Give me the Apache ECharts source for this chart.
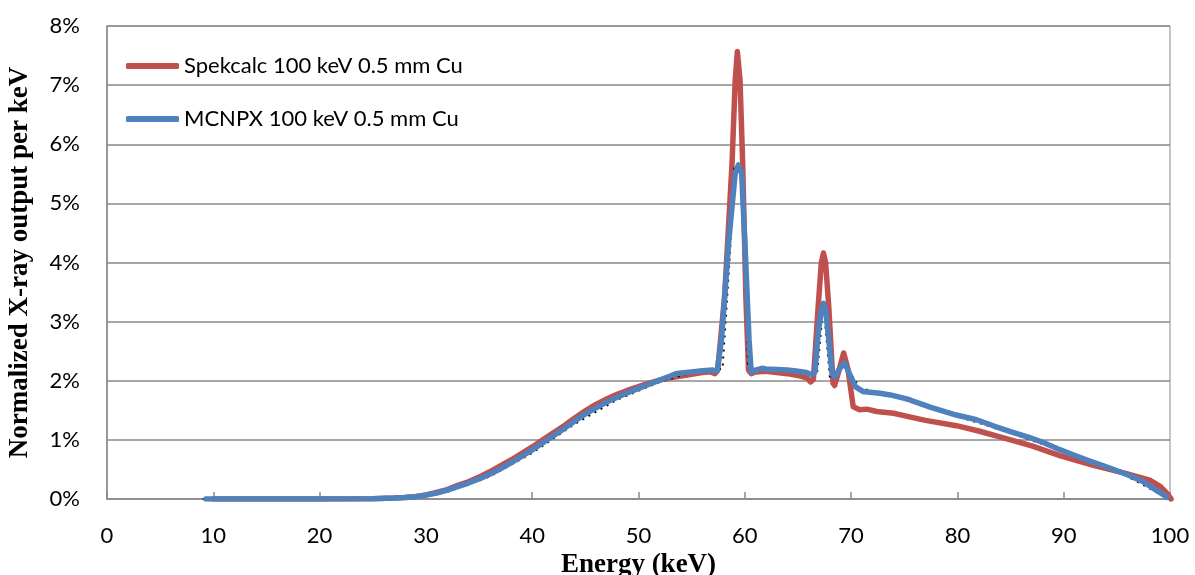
<!DOCTYPE html>
<html>
<head>
<meta charset="utf-8">
<script src="https://cdn.jsdelivr.net/npm/echarts@6/dist/echarts.min.js"></script>
<style>
  html, body { margin: 0; padding: 0; background: #fff; }
  #main { width: 1195px; height: 575px; }
</style>
</head>
<body>
<div id="main"></div>
<script>
// Spekcalc spectrum (keV, % per keV)
const redEnergy = [10, 15, 20, 25, 27, 28, 29, 30, 31, 32, 33, 34, 35, 36, 37, 38, 39, 40, 41, 42, 43, 44, 45, 46, 47, 48, 49, 50, 51, 52, 53, 54, 55, 56, 56.8, 57.2,
  57.45, 58.1, 58.8, 59.1, 59.3, 59.55, 59.8, 60.1, 60.35, 60.6, 61, 62, 63, 64, 65, 65.8, 66.2,
  66.45, 66.9, 67.2, 67.4, 67.6, 67.9, 68.3, 68.45, 68.9, 69.3, 69.7, 70.2, 70.8, 71.5, 72.4, 74, 75.5, 77, 79.9, 82, 85, 87, 89.7, 92.8, 95.9, 98.1, 99.1, 99.6, 100.1];
const redValues = [0, 0, 0, 0.005, 0.015, 0.025, 0.04, 0.07, 0.11, 0.16, 0.23, 0.29, 0.37, 0.46, 0.56, 0.66, 0.77, 0.88, 1.00, 1.12, 1.24, 1.37, 1.49, 1.60, 1.69, 1.77, 1.84, 1.90, 1.96, 2.01, 2.05, 2.08, 2.11, 2.14, 2.15, 2.12,
  2.18, 3.42, 5.68, 7.09, 7.57, 7.09, 5.68, 3.42, 2.18, 2.12, 2.15, 2.16, 2.14, 2.12, 2.09, 2.05, 1.98,
  2.02, 3.25, 4.0, 4.16, 4.0, 3.25, 1.96, 1.92, 2.2, 2.47, 2.2, 1.56, 1.51, 1.52, 1.48, 1.45, 1.39, 1.33, 1.24, 1.15, 1.00, 0.90, 0.73, 0.57, 0.43, 0.32, 0.21, 0.12, 0.0];

// MCNPX spectrum
const blueEnergy = [9.3, 15, 20, 25, 27, 28, 29, 30, 31, 32, 33, 34, 35, 36, 37, 38, 39, 40, 41, 42, 43, 44, 45, 46, 47, 48, 49, 50, 51, 52, 53, 53.5, 54, 55, 56, 57, 57.4,
  57.8, 58.5, 59.1, 59.4, 59.7, 60.0, 60.4, 60.6, 61, 61.6, 62, 63, 64, 65, 65.8, 66.3,
  66.6, 66.9, 67.2, 67.4, 67.6, 67.9, 68.2, 68.5, 68.9, 69.4, 69.9, 70.4, 71.1, 72.7, 73.7, 75.5, 75.9, 77.5, 79.9, 81.8, 83.5, 85, 86.8, 88.3, 89.7, 91, 92.2, 94.4, 96, 97.5, 98.7, 99.4, 99.7];
const blueValues = [0, 0, 0, 0.005, 0.015, 0.025, 0.04, 0.065, 0.10, 0.15, 0.21, 0.27, 0.34, 0.42, 0.51, 0.61, 0.72, 0.83, 0.95, 1.07, 1.19, 1.32, 1.44, 1.54, 1.64, 1.72, 1.80, 1.87, 1.94, 2.01, 2.08, 2.12, 2.13, 2.15, 2.17, 2.18, 2.16,
  2.69, 4.38, 5.51, 5.65, 5.51, 4.38, 2.69, 2.15, 2.18, 2.21, 2.2, 2.19, 2.18, 2.16, 2.14, 2.10,
  2.15, 2.8, 3.2, 3.31, 3.2, 2.7, 2.12, 2.07, 2.2, 2.30, 2.1, 1.90, 1.82, 1.79, 1.76, 1.68, 1.65, 1.55, 1.42, 1.34, 1.23, 1.14, 1.04, 0.94, 0.83, 0.74, 0.66, 0.52, 0.41, 0.29, 0.15, 0.07, 0.03];

// black dotted trend, mostly hidden behind the MCNPX line
const dotEnergy = [9.0, 20, 28, 32, 36, 40, 44, 48, 52, 55, 57.9, 58.6, 59.0, 59.6, 60.0, 60.3, 62, 66.8, 67.4, 68.0, 69.4, 70.8, 75, 80, 85, 90, 95, 99.4];
const dotValues = [0, 0, 0.02, 0.12, 0.38, 0.78, 1.27, 1.68, 1.98, 2.14, 2.2, 4.14, 5.6, 5.6, 4.4, 2.2, 2.2, 2.13, 3.3, 2.06, 2.28, 1.88, 1.68, 1.40, 1.12, 0.80, 0.48, 0.05];

const pairs = (xs, ys) => xs.map((x, i) => [x, ys[i]]);

const gridColor = '#8a8a8a';
const labelFont = 'Lato';
const titleFont = 'Liberation Serif';

let myChart = echarts.init(document.getElementById('main'));
let option = {
  animation: false,
  grid: {
    left: 107, right: 25, top: 26, bottom: 76,
    outerBoundsMode: 'none',
    containLabel: false,
    show: true, borderColor: gridColor, borderWidth: 1
  },
  legend: {
    orient: 'vertical',
    left: 121, top: 50,
    itemWidth: 53, itemHeight: 6,
    itemGap: 31,
    icon: 'roundRect',
    data: ['Spekcalc 100 keV 0.5 mm Cu', 'MCNPX 100 keV 0.5 mm Cu'],
    textStyle: { fontFamily: labelFont, fontSize: 22, color: '#000' }
  },
  xAxis: {
    type: 'value',
    min: 0, max: 100, interval: 10,
    name: 'Energy (keV)',
    nameLocation: 'middle',
    nameGap: 49,
    nameTextStyle: { fontFamily: titleFont, fontWeight: 'bold', fontSize: 27, color: '#000' },
    axisLine: { lineStyle: { color: gridColor, width: 1.5 } },
    axisTick: { show: true, inside: true, length: 7, lineStyle: { color: gridColor, width: 1.5 } },
    axisLabel: { fontFamily: labelFont, fontSize: 22, color: '#000', margin: 26 },
    splitLine: { show: false }
  },
  yAxis: {
    type: 'value',
    min: 0, max: 8, interval: 1,
    name: 'Normalized X-ray output per keV',
    nameLocation: 'middle',
    nameGap: 73,
    nameRotate: 90,
    nameTextStyle: { fontFamily: titleFont, fontWeight: 'bold', fontSize: 27, color: '#000' },
    axisLine: { show: true, lineStyle: { color: gridColor, width: 1.5 } },
    axisTick: { show: false },
    axisLabel: { fontFamily: labelFont, fontSize: 22, color: '#000', margin: 27, formatter: '{value}%' },
    splitLine: { lineStyle: { color: gridColor, width: 1.5 } }
  },
  series: [
    {
      name: 'Spekcalc 100 keV 0.5 mm Cu',
      type: 'line',
      symbol: 'none',
      data: pairs(redEnergy, redValues),
      lineStyle: { color: '#C0504D', width: 5.5, join: 'round', cap: 'round' },
      itemStyle: { color: '#C0504D' },
      z: 2
    },
    {
      name: 'dotted',
      type: 'line',
      symbol: 'none',
      data: pairs(dotEnergy, dotValues),
      lineStyle: { color: '#000', width: 2, type: [2, 5] },
      z: 3
    },
    {
      name: 'MCNPX 100 keV 0.5 mm Cu',
      type: 'line',
      symbol: 'none',
      data: pairs(blueEnergy, blueValues),
      lineStyle: { color: '#4F81BD', width: 5.5, join: 'round', cap: 'round' },
      itemStyle: { color: '#4F81BD' },
      z: 4
    }
  ]
};

option && myChart.setOption(option);
</script>
</body>
</html>
